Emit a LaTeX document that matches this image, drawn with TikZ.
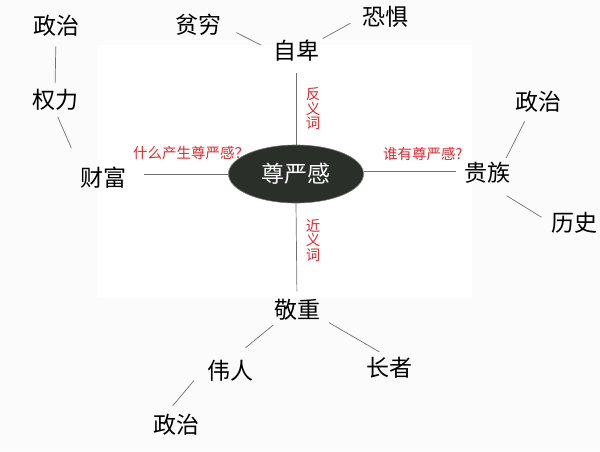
\documentclass[tikz,border=0pt]{standalone}
\usepackage{fontspec}
\setmainfont{Noto Sans CJK SC}
\usetikzlibrary{shapes.geometric}
\definecolor{ovalfill}{HTML}{2B2F2A}
\definecolor{linkgray}{HTML}{707070}
\definecolor{askred}{HTML}{E8262B}
\begin{document}
\begin{tikzpicture}[x=1pt,y=-1pt,
  word/.style={inner sep=0pt, text height=18.4pt, text depth=2.3pt, font=\fontsize{23}{23}\selectfont},
  ask/.style={inner sep=0pt, text=askred, font=\fontsize{14.5}{14.5}\selectfont},
  link/.style={draw=linkgray, line width=0.7pt}]
\useasboundingbox (0,0) rectangle (600,451);
\fill[black!1.5] (0,0) rectangle (600,451);
\fill[white] (97,45) rectangle (472,298);

\node[ellipse, fill=ovalfill, draw=black!55, line width=0.6pt, minimum width=135pt, minimum height=58pt, inner sep=0pt, text=white, font=\fontsize{23}{23}\selectfont] (zyg) at (296,174) {尊严感};
\node[word] (zz1) at (56,26) {政治};
\node[word] (ql) at (55,100) {权力};
\node[word] (cf) at (103,178) {财富};
\node[word] (pq) at (198,25) {贫穷};
\node[word] (zb) at (296,51) {自卑};
\node[word] (kj) at (385,17) {恐惧};
\node[word] (zz2) at (538,102) {政治};
\node[word] (gz) at (487,173) {贵族};
\node[word] (ls) at (574,223) {历史};
\node[word] (jz) at (297,310) {敬重};
\node[word] (wr) at (230,371) {伟人};
\node[word] (zhz) at (389,368) {长者};
\node[word] (zz3) at (176,425) {政治};

\node[ask, anchor=west] (q1) at (133,153) {什么产生尊严感？};
\node[ask, anchor=west] (q2) at (383,154) {谁有尊严感?};
\node[ask, align=center] (fy) at (313,109) {反\\义\\词};
\node[ask, align=center] (jy) at (313,240) {近\\义\\词};

\path[link, shorten <=11pt] (zb.south) -- (zyg.north);
\path[link, shorten >=8pt] (zyg.south) -- (jz.north);
\path[link, shorten >=18pt] (zyg.west) -- (zyg.west -| cf.east);
\path[link, shorten >=8pt] ([yshift=3pt]zyg.east) -- ([yshift=3pt]zyg.east -| gz.west);
\path[link, shorten <=17pt, shorten >=13pt] (pq.east) -- (zb.west);
\path[link, shorten <=4pt, shorten >=13pt] (zb.north east) -- (kj.west);
\path[link, shorten <=10pt, shorten >=6pt] (zz1.south) -- (ql.north);
\path[link, shorten <=7pt, shorten >=21pt] (ql.south) -- (cf.north west);
\path[link, shorten <=5pt, shorten >=10pt] (gz.32) -- (zz2.230);
\path[link, shorten <=23pt, shorten >=11pt] (gz.south) -- (ls.west);
\path[link, shorten <=7pt, shorten >=20pt] (jz.210) -- (wr.north);
\path[link, shorten <=10pt, shorten >=11pt] (jz.-18) -- (zhz.north);
\path[link, shorten <=20pt, shorten >=11pt] (wr.166) -- (zz3.135);
\end{tikzpicture}
\end{document}
